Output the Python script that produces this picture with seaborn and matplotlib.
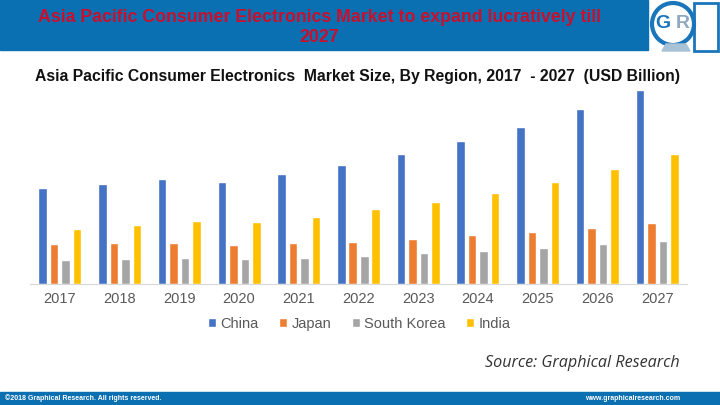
import pandas as pd
import matplotlib
matplotlib.use('Agg')
import matplotlib.pyplot as plt
import matplotlib.patches as mpatches
import seaborn as sns

# Market size by region (USD Billion)
years = ['2017', '2018', '2019', '2020', '2021', '2022', '2023', '2024', '2025', '2026', '2027']
china = [47.9, 50.2, 52.5, 51.2, 54.8, 59.3, 65.0, 71.3, 78.7, 87.3, 97.0]
japan = [19.8, 20.3, 20.3, 19.5, 20.3, 21.2, 22.5, 24.5, 26.2, 28.2, 30.3]
south_korea = [12.0, 12.5, 13.0, 12.5, 13.0, 14.0, 15.3, 16.5, 18.0, 20.0, 21.7]
india = [27.7, 29.5, 31.3, 30.8, 33.7, 37.5, 41.0, 45.5, 51.0, 57.5, 65.0]

regions = ['China', 'Japan', 'South Korea', 'India']
colors = ['#4472C4', '#ED7D31', '#A5A5A5', '#FFC000']

df = pd.DataFrame({'year': years, 'China': china, 'Japan': japan,
                   'South Korea': south_korea, 'India': india})
df = df.melt(id_vars='year', var_name='region', value_name='size')

sns.set_style('white')
plt.rcParams['font.family'] = ['Liberation Sans', 'DejaVu Sans']

fig = plt.figure(figsize=(7.2, 4.05), dpi=100)
fig.patch.set_facecolor('white')

# header band + footer band
blue = '#0A70B2'
fig.patches.append(mpatches.Rectangle((0, 1 - 50 / 405), 648 / 720, 50 / 405,
                                      transform=fig.transFigure, color=blue, zorder=0))
fig.patches.append(mpatches.Rectangle((0, 0), 1, 13 / 405,
                                      transform=fig.transFigure, color=blue, zorder=0))

fig.text(319 / 720, 1 - 17 / 405, 'Asia Pacific Consumer Electronics Market to expand lucratively till',
         ha='center', va='center', color='#C8102E', fontsize=12.8, fontweight='bold')
fig.text(319 / 720, 1 - 38 / 405, '2027', ha='center', va='center', color='#C8102E',
         fontsize=12.8, fontweight='bold')

# logo
logo = fig.add_axes([648 / 720, 1 - 54 / 405, 72 / 720, 54 / 405])
logo.set_xlim(0, 72)
logo.set_ylim(0, 54)
logo.axis('off')
logo.add_patch(mpatches.Circle((25, 30), 21, fill=False, lw=3, ec='#1B75BB'))
logo.add_patch(mpatches.Rectangle((46, 3), 24, 48, fill=False, lw=2, ec='#1B75BB'))
logo.add_patch(mpatches.Polygon([[14, 3], [42, 3], [38, 10], [18, 10]], color='#A9C2D6'))
logo.text(15, 31, 'G', ha='center', va='center', fontsize=14, color='#1B75BB', fontweight='bold')
logo.text(35, 31, 'R', ha='center', va='center', fontsize=14, color='#8FA9BF', fontweight='bold')

fig.text(35 / 720, 1 - 77 / 405,
         'Asia Pacific Consumer Electronics  Market Size, By Region, 2017  - 2027  (USD Billion)',
         ha='left', va='center', color='#111111', fontsize=11.3, fontweight='bold')

ax = fig.add_axes([30 / 720, 121 / 405, 657 / 720, 198 / 405])
sns.barplot(data=df, x='year', y='size', hue='region', hue_order=regions,
            palette=colors, width=0.77, gap=0.26, saturation=1, ax=ax)
ax.set_xlim(-0.5, 10.5)
ax.set_ylim(0, 99)
ax.set_xlabel('')
ax.set_ylabel('')
ax.set_yticks([])
for side in ['top', 'left', 'right']:
    ax.spines[side].set_visible(False)
ax.spines['bottom'].set_color('#D9D9D9')
ax.tick_params(axis='x', length=0, pad=6, labelsize=10.5, labelcolor='#595959')

ax.legend(loc='center', bbox_to_anchor=(359.5 / 720, 1 - 324 / 405),
          bbox_transform=fig.transFigure, ncol=4, frameon=False,
          fontsize=10.5, labelcolor='#595959', handlelength=0.55, handleheight=0.55,
          handletextpad=0.3, columnspacing=1.4)

fig.text(680 / 720, 1 - 363 / 405, 'Source: Graphical Research', ha='right', va='center',
         color='#333333', fontsize=11.6, style='italic', family=['Open Sans', 'DejaVu Sans'])

fig.text(5 / 720, 1 - 398 / 405, '©2018 Graphical Research. All rights reserved.',
         ha='left', va='center', color='white', fontsize=5, fontweight='bold')
fig.text(680 / 720, 1 - 398 / 405, 'www.graphicalresearch.com',
         ha='right', va='center', color='white', fontsize=5, fontweight='bold')

plt.savefig('out.png', dpi=100)
